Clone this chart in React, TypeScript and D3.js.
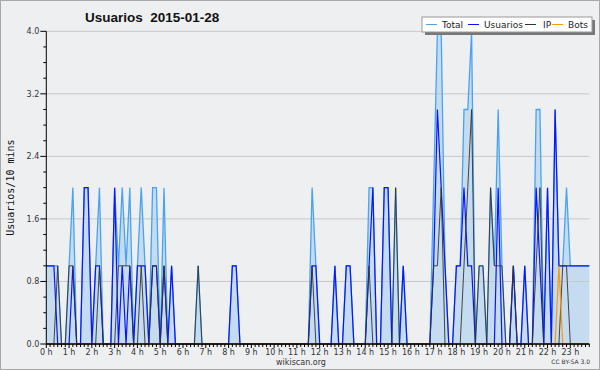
import React from "react";
import * as d3 from "d3";

// ---- data (users per 10-minute slot, 144 slots) ----
const total = [
  1, 1, 1, 1, 0, 0, 1, 2, 0, 0,
  2, 2, 0, 1, 2, 0, 0, 0, 2, 1,
  2, 1, 2, 0, 1, 2, 1, 0, 2, 2,
  0, 2, 0, 1, 0, 0, 0, 0, 0, 0,
  1, 0, 0, 0, 0, 0, 0, 0, 0, 1,
  1, 0, 0, 0, 0, 0, 0, 0, 0, 0,
  0, 0, 0, 0, 0, 0, 0, 0, 0, 0,
  2, 1, 0, 0, 0, 0, 1, 0, 0, 1,
  1, 0, 0, 0, 0, 2, 2, 0, 0, 2,
  2, 0, 2, 0, 1, 0, 0, 0, 0, 0,
  0, 0, 2, 4, 4, 1, 0, 0, 1, 1,
  3, 3, 4, 0, 1, 1, 0, 2, 1, 3,
  1, 0, 0, 1, 0, 0, 1, 0, 0, 3,
  3, 0, 2, 0, 3, 1, 1, 2, 1, 1,
  1, 1, 1, 1,
];
const usuarios = [
  1, 1, 1, 0, 0, 0, 0, 1, 0, 0,
  2, 2, 0, 1, 1, 0, 0, 0, 2, 0,
  1, 0, 1, 0, 1, 1, 1, 0, 1, 1,
  0, 1, 0, 1, 0, 0, 0, 0, 0, 0,
  0, 0, 0, 0, 0, 0, 0, 0, 0, 1,
  1, 0, 0, 0, 0, 0, 0, 0, 0, 0,
  0, 0, 0, 0, 0, 0, 0, 0, 0, 0,
  1, 1, 0, 0, 0, 0, 1, 0, 0, 1,
  1, 0, 0, 0, 0, 1, 2, 0, 0, 2,
  2, 0, 0, 0, 1, 0, 0, 0, 0, 0,
  0, 0, 1, 3, 2, 1, 0, 0, 1, 1,
  2, 1, 1, 0, 0, 0, 0, 0, 0, 2,
  0, 0, 0, 1, 0, 0, 1, 0, 0, 2,
  1, 0, 2, 0, 3, 1, 1, 1, 1, 1,
  1, 1, 1, 1,
];
const ip = [
  0, 0, 0, 1, 0, 0, 1, 1, 0, 0,
  0, 0, 0, 0, 1, 0, 0, 0, 0, 1,
  1, 1, 1, 0, 0, 1, 0, 0, 1, 1,
  0, 1, 0, 0, 0, 0, 0, 0, 0, 0,
  1, 0, 0, 0, 0, 0, 0, 0, 0, 0,
  0, 0, 0, 0, 0, 0, 0, 0, 0, 0,
  0, 0, 0, 0, 0, 0, 0, 0, 0, 0,
  1, 0, 0, 0, 0, 0, 0, 0, 0, 0,
  0, 0, 0, 0, 0, 1, 0, 0, 0, 0,
  0, 0, 2, 0, 0, 0, 0, 0, 0, 0,
  0, 0, 1, 1, 2, 0, 0, 0, 0, 0,
  1, 2, 3, 0, 1, 1, 0, 2, 1, 1,
  1, 0, 0, 1, 0, 0, 0, 0, 0, 1,
  2, 0, 0, 0, 0, 0, 1, 1, 0, 0,
  0, 0, 0, 0,
];
const bots = [
  0, 0, 0, 0, 0, 0, 0, 0, 0, 0,
  0, 0, 0, 0, 0, 0, 0, 0, 0, 0,
  0, 0, 0, 0, 0, 0, 0, 0, 0, 0,
  0, 0, 0, 0, 0, 0, 0, 0, 0, 0,
  0, 0, 0, 0, 0, 0, 0, 0, 0, 0,
  0, 0, 0, 0, 0, 0, 0, 0, 0, 0,
  0, 0, 0, 0, 0, 0, 0, 0, 0, 0,
  0, 0, 0, 0, 0, 0, 0, 0, 0, 0,
  0, 0, 0, 0, 0, 0, 0, 0, 0, 0,
  0, 0, 0, 0, 0, 0, 0, 0, 0, 0,
  0, 0, 0, 0, 0, 0, 0, 0, 0, 0,
  0, 0, 0, 0, 0, 0, 0, 0, 0, 0,
  0, 0, 0, 0, 0, 0, 0, 0, 0, 0,
  0, 0, 0, 0, 0, 1, 0, 0, 0, 0,
  0, 0, 0, 0,
];
const hourLabels = [
  "0 h", "1 h", "2 h", "3 h", "4 h", "5 h", "6 h", "7 h", "8 h", "9 h", "10 h", "11 h",
  "12 h", "13 h", "14 h", "15 h", "16 h", "17 h", "18 h", "19 h", "20 h", "21 h", "22 h", "23 h",
];
const yTicks = [0, 0.8, 1.6, 2.4, 3.2, 4.0];
const yTickLabels = ["0.0", "0.8", "1.6", "2.4", "3.2", "4.0"];
const legendItems = ["Total", "Usuarios", "IP", "Bots"];

// ---- layout ----
const W = 600, H = 370;
const PL = 46.3, PR = 589.3, PT = 31.3, PB = 344;
const BG = "#eeeff1";
const C_TOTAL = "#4aa3f0";
const C_FILL = "#c5dcf0";
const C_USU = "#0a14ff";
const C_IP = "#333333";
const C_BOTS = "#ff9900";
const seriesColors = [C_TOTAL, C_USU, C_IP, C_BOTS];
const legendLineX = [426, 468, 525, 552];
const legendTextX = [442, 484, 543, 568];

export default function App() {
  const n = total.length;
  const x = d3.scaleLinear().domain([0, n - 1]).range([PL, PR]);
  const y = d3.scaleLinear().domain([0, 4]).range([PB, PT]);
  const idx = d3.range(n);

  const line = (vals: number[]) =>
    d3.line<number>().x((i) => x(i)).y((i) => y(vals[i]))(idx) || "";
  const area =
    d3.area<number>().x((i) => x(i)).y0(y(0)).y1((i) => y(total[i]))(idx) || "";

  const minorY = d3.range(0, 4.0001, 0.2);
  const sans = "'DejaVu Sans', Verdana, sans-serif";

  return (
    <svg
      width={W}
      height={H}
      style={{ position: "absolute", left: 0, top: 0, display: "block" }}
    >
      <rect x={0} y={0} width={W} height={H} fill={BG} />
      <rect x={0.5} y={0.5} width={W - 1} height={H - 1} fill="none" stroke="#a8a8a8" />

      {/* title */}
      <text
        x={85}
        y={21.5}
        fontFamily="'Liberation Sans', Arial, sans-serif"
        fontWeight="bold"
        fontSize={13.5}
        fill="#111"
        style={{ whiteSpace: "pre" }}
      >
        {"Usuarios  2015-01-28"}
      </text>

      {/* area */}
      <path d={area} fill={C_FILL} />

      {/* grid */}
      {yTicks.filter((t) => t > 0).map((t) => (
        <line key={t} x1={PL} x2={PR} y1={y(t)} y2={y(t)} stroke="#c8c8c8" strokeWidth={1} />
      ))}

      {/* series */}
      <path d={line(total)} fill="none" stroke={C_TOTAL} strokeWidth={1.3} />
      <path d={line(usuarios)} fill="none" stroke={C_USU} strokeWidth={1.2} />
      <path d={line(ip)} fill="none" stroke={C_IP} strokeWidth={1} strokeOpacity={0.9} />
      <path d={line(bots)} fill="none" stroke={C_BOTS} strokeWidth={1.2} />

      {/* y axis */}
      <line x1={PL} x2={PL} y1={PT} y2={PB} stroke="#000" />
      {minorY.map((t, k) => (
        <line
          key={k}
          x1={PL - (k % 4 === 0 ? 6 : 3)}
          x2={PL}
          y1={y(t)}
          y2={y(t)}
          stroke="#000"
        />
      ))}
      {yTicks.map((t, k) => (
        <text
          key={t}
          x={PL - 7}
          y={y(t) + 3}
          textAnchor="end"
          fontFamily={sans}
          fontSize={8}
          fill="#333"
        >
          {yTickLabels[k]}
        </text>
      ))}
      <text
        transform={`translate(13.5,${(PT + PB) / 2}) rotate(-90)`}
        textAnchor="middle"
        fontFamily="'DejaVu Sans Mono', monospace"
        fontSize={10}
        fill="#111"
      >
        Usuarios/10 mins
      </text>

      {/* x axis */}
      <line x1={PL} x2={PR} y1={PB} y2={PB} stroke="#000" strokeWidth={1.5} />
      {idx.map((i) => (
        <line key={i} x1={x(i)} x2={x(i)} y1={PB} y2={PB + (i % 6 === 0 ? 4 : 3)} stroke="#000" />
      ))}
      {hourLabels.map((lab, h) => (
        <text
          key={lab}
          x={x(h * 6)}
          y={354.5}
          textAnchor="middle"
          fontFamily={sans}
          fontSize={8}
          fill="#333"
        >
          {lab}
        </text>
      ))}

      {/* legend */}
      <rect x={425} y={20} width={170} height={15} fill="#777" />
      <rect x={422} y={17} width={170} height={15} fill="#fff" stroke="#999" />
      {legendItems.map((name, k) => (
        <g key={name}>
          <line
            x1={legendLineX[k]}
            x2={legendLineX[k] + 11}
            y1={24.5}
            y2={24.5}
            stroke={seriesColors[k]}
            strokeWidth={1}
          />
          <text x={legendTextX[k]} y={28} fontFamily={sans} fontSize={9} fill="#222">
            {name}
          </text>
        </g>
      ))}

      {/* footer */}
      <text x={301} y={365} textAnchor="middle" fontFamily={sans} fontSize={8} fill="#333">
        wikiscan.org
      </text>
      <text x={590} y={364} textAnchor="end" fontFamily={sans} fontSize={6} fill="#333">
        CC BY-SA 3.0
      </text>
    </svg>
  );
}
